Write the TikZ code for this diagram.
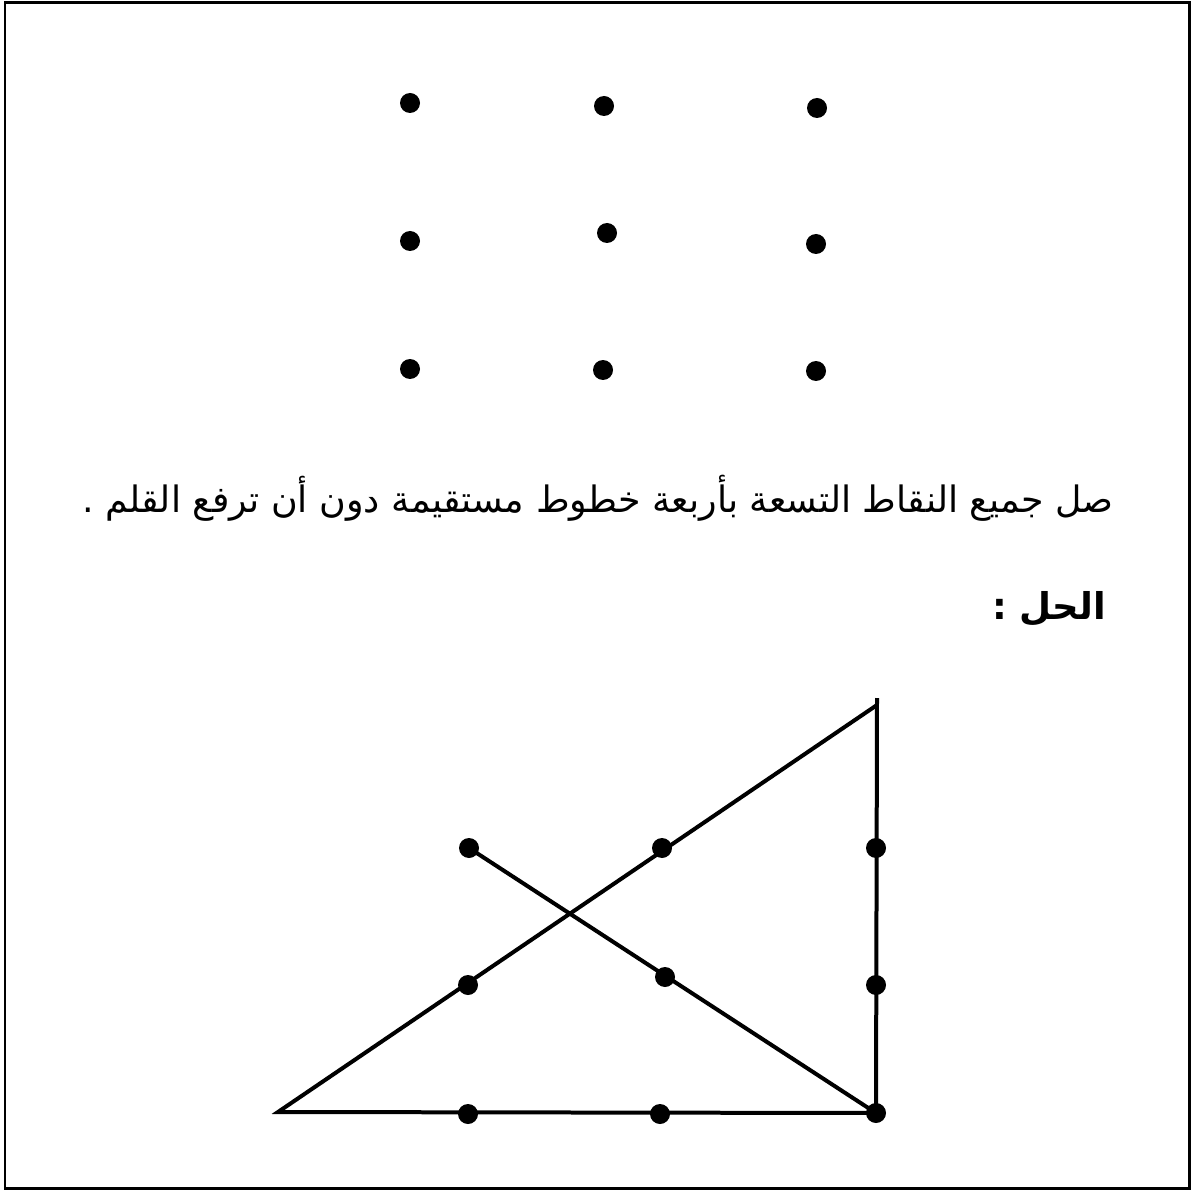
\documentclass[tikz,border=0pt]{standalone}
\usepackage{fontspec}
\newfontfamily\arabicfont[Script=Arabic]{DejaVu Sans}
\TeXXeTstate=1

\begin{document}
\begin{tikzpicture}[x=0.02cm,y=-0.02cm,
    dot/.style={circle,fill=black,inner sep=0pt,minimum size=0.4cm},
    pen/.style={line width=0.08cm,line join=miter},
    frame/.style={line width=0.06cm},
    arabtext/.style={inner sep=0pt,font=\arabicfont\fontsize{20.7}{25}\selectfont}]
  \useasboundingbox (0,0) rectangle (1196,1192);
  \draw[frame] (5,3) rectangle (1189,1188);
  % the nine dots
  \node[dot] (a1) at (410,103) {};
  \node[dot] (a2) at (604,106) {};
  \node[dot] (a3) at (817,108) {};
  \node[dot] (b1) at (410,241) {};
  \node[dot] (b2) at (607,233) {};
  \node[dot] (b3) at (816,244) {};
  \node[dot] (c1) at (410,369) {};
  \node[dot] (c2) at (603,370) {};
  \node[dot] (c3) at (816,371) {};
  % question
  \node[arabtext,anchor=base east] (task) at (1114,512)
    {\beginR صل جميع النقاط التسعة بأربعة خطوط مستقيمة دون  أن ترفع القلم .\endR};
  \node[arabtext,anchor=base east,font=\arabicfont\bfseries\fontsize{21}{25}\selectfont] (answer) at (1106,619)
    {\beginR الحل :\endR};
  % solution
  \coordinate (top) at (877,705);
  \coordinate (overshoot) at (877,698);
  \coordinate (left) at (278,1112);
  \node[dot] (p1) at (469,848) {};
  \node[dot] (p2) at (662,848) {};
  \node[dot] (p3) at (876,848) {};
  \node[dot] (q1) at (468,985) {};
  \node[dot] (q2) at (665,977) {};
  \node[dot] (q3) at (876,985) {};
  \node[dot] (r1) at (468,1114) {};
  \node[dot] (r2) at (660,1114) {};
  \node[dot] (r3) at (876,1113) {};
  \draw[pen] (p1.center) -- (r3.center) -- (overshoot);
  \draw[pen] (top) -- (left) -- (r3.center);
\end{tikzpicture}
\end{document}
